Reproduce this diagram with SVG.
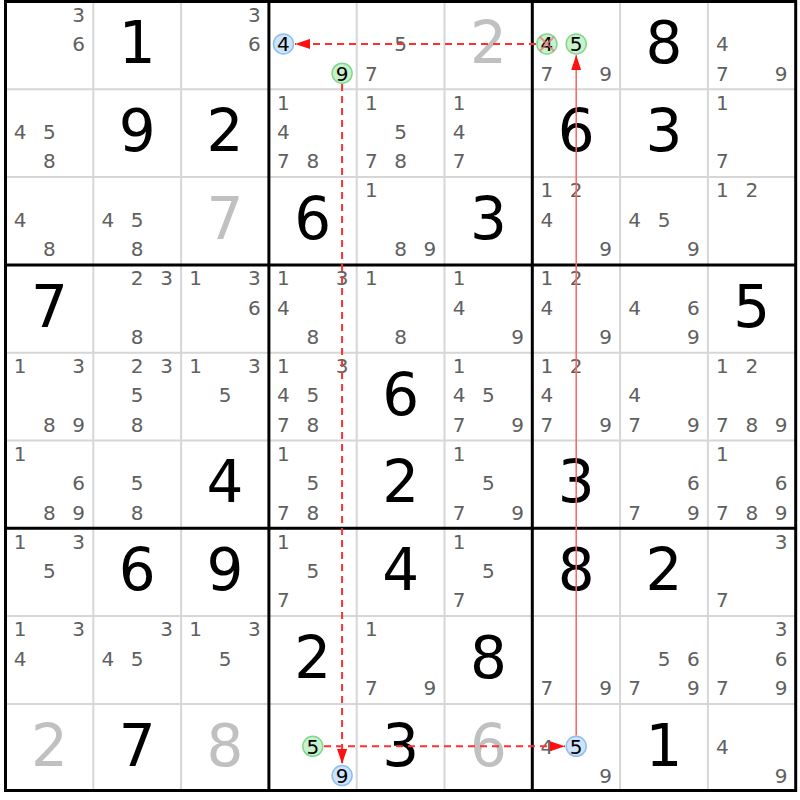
<svg xmlns="http://www.w3.org/2000/svg" width="800" height="800" viewBox="0 0 800 800">
<style>
.c{font-family:"DejaVu Sans","Noto Sans",sans-serif;font-size:20px;fill:#606060;text-anchor:middle}
.k{fill:#000}
.g{font-family:"DejaVu Sans","Noto Sans",sans-serif;font-size:58px;fill:#000;text-anchor:middle}
.s{fill:#c0c0c0}
.thin{stroke:#d6d6d6;stroke-width:2}
.thick{stroke:#000;stroke-width:3}
.cb{fill:#cfe4fb;stroke:#8cc0f4;stroke-width:1.5}
.cg{fill:#c9f1cb;stroke:#7fd98a;stroke-width:1.5}
.dash{stroke:#ff3030;stroke-width:2;stroke-dasharray:7 5;fill:none}
.solid{stroke:#ff6060;stroke-width:1.5;fill:none}
</style>
<defs>
<marker id="ah" markerUnits="userSpaceOnUse" markerWidth="15" markerHeight="10" refX="15" refY="5" orient="auto"><path d="M0,0 L15,5 L0,10 z" fill="#ff1010"/></marker>
</defs>
<rect x="0" y="0" width="800" height="800" fill="#fff"/>
<g id="grid">
<path class="thin" d="M93.3,1.5V790.5M181.1,1.5V790.5M356.7,1.5V790.5M444.5,1.5V790.5M620.1,1.5V790.5M707.9,1.5V790.5M5.5,89.3H795.7M5.5,177.1H795.7M5.5,352.7H795.7M5.5,440.5H795.7M5.5,616.1H795.7M5.5,703.9H795.7"/>
<path class="thick" d="M268.9,1.5V790.5M532.3,1.5V790.5M5.5,264.9H795.7M5.5,528.3H795.7"/>
<rect x="5.5" y="1.5" width="790.2" height="789" fill="none" stroke="#000" stroke-width="3"/>
</g>
<!-- row 1 -->
<g id="r1c1" transform="translate(5.5,1.5)"><text class="c" x="73.2" y="20.4">3</text><text class="c" x="73.2" y="49.7">6</text></g>
<g id="r1c2" transform="translate(93.3,1.5)"><text class="g" x="43.9" y="61.9">1</text></g>
<g id="r1c3" transform="translate(181.1,1.5)"><text class="c" x="73.2" y="20.4">3</text><text class="c" x="73.2" y="49.7">6</text></g>
<g id="r1c4" transform="translate(268.9,1.5)"><circle class="cb" cx="14.6" cy="42.4" r="10"/><text class="c k" x="14.6" y="49.7">4</text><circle class="cg" cx="73.2" cy="71.7" r="10"/><text class="c k" x="73.2" y="79">9</text></g>
<g id="r1c5" transform="translate(356.7,1.5)"><text class="c" x="43.9" y="49.7">5</text><text class="c" x="14.6" y="79">7</text></g>
<g id="r1c6" transform="translate(444.5,1.5)"><text class="g s" x="43.9" y="61.9">2</text></g>
<g id="r1c7" transform="translate(532.3,1.5)"><circle class="cg" cx="14.6" cy="42.4" r="10"/><text class="c k" x="14.6" y="49.7">4</text><path d="M7.5,35.3L21.7,49.5M21.7,35.3L7.5,49.5" stroke="#f07070" stroke-width="2" opacity="0.7"/><circle class="cg" cx="43.9" cy="42.4" r="10"/><text class="c k" x="43.9" y="49.7">5</text><text class="c" x="14.6" y="79">7</text><text class="c" x="73.2" y="79">9</text></g>
<g id="r1c8" transform="translate(620.1,1.5)"><text class="g" x="43.9" y="61.9">8</text></g>
<g id="r1c9" transform="translate(707.9,1.5)"><text class="c" x="14.6" y="49.7">4</text><text class="c" x="14.6" y="79">7</text><text class="c" x="73.2" y="79">9</text></g>
<!-- row 2 -->
<g id="r2c1" transform="translate(5.5,89.3)"><text class="c" x="14.6" y="49.7">4</text><text class="c" x="43.9" y="49.7">5</text><text class="c" x="43.9" y="79">8</text></g>
<g id="r2c2" transform="translate(93.3,89.3)"><text class="g" x="43.9" y="61.9">9</text></g>
<g id="r2c3" transform="translate(181.1,89.3)"><text class="g" x="43.9" y="61.9">2</text></g>
<g id="r2c4" transform="translate(268.9,89.3)"><text class="c" x="14.6" y="20.4">1</text><text class="c" x="14.6" y="49.7">4</text><text class="c" x="14.6" y="79">7</text><text class="c" x="43.9" y="79">8</text></g>
<g id="r2c5" transform="translate(356.7,89.3)"><text class="c" x="14.6" y="20.4">1</text><text class="c" x="43.9" y="49.7">5</text><text class="c" x="14.6" y="79">7</text><text class="c" x="43.9" y="79">8</text></g>
<g id="r2c6" transform="translate(444.5,89.3)"><text class="c" x="14.6" y="20.4">1</text><text class="c" x="14.6" y="49.7">4</text><text class="c" x="14.6" y="79">7</text></g>
<g id="r2c7" transform="translate(532.3,89.3)"><text class="g" x="43.9" y="61.9">6</text></g>
<g id="r2c8" transform="translate(620.1,89.3)"><text class="g" x="43.9" y="61.9">3</text></g>
<g id="r2c9" transform="translate(707.9,89.3)"><text class="c" x="14.6" y="20.4">1</text><text class="c" x="14.6" y="79">7</text></g>
<!-- row 3 -->
<g id="r3c1" transform="translate(5.5,177.1)"><text class="c" x="14.6" y="49.7">4</text><text class="c" x="43.9" y="79">8</text></g>
<g id="r3c2" transform="translate(93.3,177.1)"><text class="c" x="14.6" y="49.7">4</text><text class="c" x="43.9" y="49.7">5</text><text class="c" x="43.9" y="79">8</text></g>
<g id="r3c3" transform="translate(181.1,177.1)"><text class="g s" x="43.9" y="61.9">7</text></g>
<g id="r3c4" transform="translate(268.9,177.1)"><text class="g" x="43.9" y="61.9">6</text></g>
<g id="r3c5" transform="translate(356.7,177.1)"><text class="c" x="14.6" y="20.4">1</text><text class="c" x="43.9" y="79">8</text><text class="c" x="73.2" y="79">9</text></g>
<g id="r3c6" transform="translate(444.5,177.1)"><text class="g" x="43.9" y="61.9">3</text></g>
<g id="r3c7" transform="translate(532.3,177.1)"><text class="c" x="14.6" y="20.4">1</text><text class="c" x="43.9" y="20.4">2</text><text class="c" x="14.6" y="49.7">4</text><text class="c" x="73.2" y="79">9</text></g>
<g id="r3c8" transform="translate(620.1,177.1)"><text class="c" x="14.6" y="49.7">4</text><text class="c" x="43.9" y="49.7">5</text><text class="c" x="73.2" y="79">9</text></g>
<g id="r3c9" transform="translate(707.9,177.1)"><text class="c" x="14.6" y="20.4">1</text><text class="c" x="43.9" y="20.4">2</text></g>
<!-- row 4 -->
<g id="r4c1" transform="translate(5.5,264.9)"><text class="g" x="43.9" y="61.9">7</text></g>
<g id="r4c2" transform="translate(93.3,264.9)"><text class="c" x="43.9" y="20.4">2</text><text class="c" x="73.2" y="20.4">3</text><text class="c" x="43.9" y="79">8</text></g>
<g id="r4c3" transform="translate(181.1,264.9)"><text class="c" x="14.6" y="20.4">1</text><text class="c" x="73.2" y="20.4">3</text><text class="c" x="73.2" y="49.7">6</text></g>
<g id="r4c4" transform="translate(268.9,264.9)"><text class="c" x="14.6" y="20.4">1</text><text class="c" x="73.2" y="20.4">3</text><text class="c" x="14.6" y="49.7">4</text><text class="c" x="43.9" y="79">8</text></g>
<g id="r4c5" transform="translate(356.7,264.9)"><text class="c" x="14.6" y="20.4">1</text><text class="c" x="43.9" y="79">8</text></g>
<g id="r4c6" transform="translate(444.5,264.9)"><text class="c" x="14.6" y="20.4">1</text><text class="c" x="14.6" y="49.7">4</text><text class="c" x="73.2" y="79">9</text></g>
<g id="r4c7" transform="translate(532.3,264.9)"><text class="c" x="14.6" y="20.4">1</text><text class="c" x="43.9" y="20.4">2</text><text class="c" x="14.6" y="49.7">4</text><text class="c" x="73.2" y="79">9</text></g>
<g id="r4c8" transform="translate(620.1,264.9)"><text class="c" x="14.6" y="49.7">4</text><text class="c" x="73.2" y="49.7">6</text><text class="c" x="73.2" y="79">9</text></g>
<g id="r4c9" transform="translate(707.9,264.9)"><text class="g" x="43.9" y="61.9">5</text></g>
<!-- row 5 -->
<g id="r5c1" transform="translate(5.5,352.7)"><text class="c" x="14.6" y="20.4">1</text><text class="c" x="73.2" y="20.4">3</text><text class="c" x="43.9" y="79">8</text><text class="c" x="73.2" y="79">9</text></g>
<g id="r5c2" transform="translate(93.3,352.7)"><text class="c" x="43.9" y="20.4">2</text><text class="c" x="73.2" y="20.4">3</text><text class="c" x="43.9" y="49.7">5</text><text class="c" x="43.9" y="79">8</text></g>
<g id="r5c3" transform="translate(181.1,352.7)"><text class="c" x="14.6" y="20.4">1</text><text class="c" x="73.2" y="20.4">3</text><text class="c" x="43.9" y="49.7">5</text></g>
<g id="r5c4" transform="translate(268.9,352.7)"><text class="c" x="14.6" y="20.4">1</text><text class="c" x="73.2" y="20.4">3</text><text class="c" x="14.6" y="49.7">4</text><text class="c" x="43.9" y="49.7">5</text><text class="c" x="14.6" y="79">7</text><text class="c" x="43.9" y="79">8</text></g>
<g id="r5c5" transform="translate(356.7,352.7)"><text class="g" x="43.9" y="61.9">6</text></g>
<g id="r5c6" transform="translate(444.5,352.7)"><text class="c" x="14.6" y="20.4">1</text><text class="c" x="14.6" y="49.7">4</text><text class="c" x="43.9" y="49.7">5</text><text class="c" x="14.6" y="79">7</text><text class="c" x="73.2" y="79">9</text></g>
<g id="r5c7" transform="translate(532.3,352.7)"><text class="c" x="14.6" y="20.4">1</text><text class="c" x="43.9" y="20.4">2</text><text class="c" x="14.6" y="49.7">4</text><text class="c" x="14.6" y="79">7</text><text class="c" x="73.2" y="79">9</text></g>
<g id="r5c8" transform="translate(620.1,352.7)"><text class="c" x="14.6" y="49.7">4</text><text class="c" x="14.6" y="79">7</text><text class="c" x="73.2" y="79">9</text></g>
<g id="r5c9" transform="translate(707.9,352.7)"><text class="c" x="14.6" y="20.4">1</text><text class="c" x="43.9" y="20.4">2</text><text class="c" x="14.6" y="79">7</text><text class="c" x="43.9" y="79">8</text><text class="c" x="73.2" y="79">9</text></g>
<!-- row 6 -->
<g id="r6c1" transform="translate(5.5,440.5)"><text class="c" x="14.6" y="20.4">1</text><text class="c" x="73.2" y="49.7">6</text><text class="c" x="43.9" y="79">8</text><text class="c" x="73.2" y="79">9</text></g>
<g id="r6c2" transform="translate(93.3,440.5)"><text class="c" x="43.9" y="49.7">5</text><text class="c" x="43.9" y="79">8</text></g>
<g id="r6c3" transform="translate(181.1,440.5)"><text class="g" x="43.9" y="61.9">4</text></g>
<g id="r6c4" transform="translate(268.9,440.5)"><text class="c" x="14.6" y="20.4">1</text><text class="c" x="43.9" y="49.7">5</text><text class="c" x="14.6" y="79">7</text><text class="c" x="43.9" y="79">8</text></g>
<g id="r6c5" transform="translate(356.7,440.5)"><text class="g" x="43.9" y="61.9">2</text></g>
<g id="r6c6" transform="translate(444.5,440.5)"><text class="c" x="14.6" y="20.4">1</text><text class="c" x="43.9" y="49.7">5</text><text class="c" x="14.6" y="79">7</text><text class="c" x="73.2" y="79">9</text></g>
<g id="r6c7" transform="translate(532.3,440.5)"><text class="g" x="43.9" y="61.9">3</text></g>
<g id="r6c8" transform="translate(620.1,440.5)"><text class="c" x="73.2" y="49.7">6</text><text class="c" x="14.6" y="79">7</text><text class="c" x="73.2" y="79">9</text></g>
<g id="r6c9" transform="translate(707.9,440.5)"><text class="c" x="14.6" y="20.4">1</text><text class="c" x="73.2" y="49.7">6</text><text class="c" x="14.6" y="79">7</text><text class="c" x="43.9" y="79">8</text><text class="c" x="73.2" y="79">9</text></g>
<!-- row 7 -->
<g id="r7c1" transform="translate(5.5,528.3)"><text class="c" x="14.6" y="20.4">1</text><text class="c" x="73.2" y="20.4">3</text><text class="c" x="43.9" y="49.7">5</text></g>
<g id="r7c2" transform="translate(93.3,528.3)"><text class="g" x="43.9" y="61.9">6</text></g>
<g id="r7c3" transform="translate(181.1,528.3)"><text class="g" x="43.9" y="61.9">9</text></g>
<g id="r7c4" transform="translate(268.9,528.3)"><text class="c" x="14.6" y="20.4">1</text><text class="c" x="43.9" y="49.7">5</text><text class="c" x="14.6" y="79">7</text></g>
<g id="r7c5" transform="translate(356.7,528.3)"><text class="g" x="43.9" y="61.9">4</text></g>
<g id="r7c6" transform="translate(444.5,528.3)"><text class="c" x="14.6" y="20.4">1</text><text class="c" x="43.9" y="49.7">5</text><text class="c" x="14.6" y="79">7</text></g>
<g id="r7c7" transform="translate(532.3,528.3)"><text class="g" x="43.9" y="61.9">8</text></g>
<g id="r7c8" transform="translate(620.1,528.3)"><text class="g" x="43.9" y="61.9">2</text></g>
<g id="r7c9" transform="translate(707.9,528.3)"><text class="c" x="73.2" y="20.4">3</text><text class="c" x="14.6" y="79">7</text></g>
<!-- row 8 -->
<g id="r8c1" transform="translate(5.5,616.1)"><text class="c" x="14.6" y="20.4">1</text><text class="c" x="73.2" y="20.4">3</text><text class="c" x="14.6" y="49.7">4</text></g>
<g id="r8c2" transform="translate(93.3,616.1)"><text class="c" x="73.2" y="20.4">3</text><text class="c" x="14.6" y="49.7">4</text><text class="c" x="43.9" y="49.7">5</text></g>
<g id="r8c3" transform="translate(181.1,616.1)"><text class="c" x="14.6" y="20.4">1</text><text class="c" x="73.2" y="20.4">3</text><text class="c" x="43.9" y="49.7">5</text></g>
<g id="r8c4" transform="translate(268.9,616.1)"><text class="g" x="43.9" y="61.9">2</text></g>
<g id="r8c5" transform="translate(356.7,616.1)"><text class="c" x="14.6" y="20.4">1</text><text class="c" x="14.6" y="79">7</text><text class="c" x="73.2" y="79">9</text></g>
<g id="r8c6" transform="translate(444.5,616.1)"><text class="g" x="43.9" y="61.9">8</text></g>
<g id="r8c7" transform="translate(532.3,616.1)"><text class="c" x="14.6" y="79">7</text><text class="c" x="73.2" y="79">9</text></g>
<g id="r8c8" transform="translate(620.1,616.1)"><text class="c" x="43.9" y="49.7">5</text><text class="c" x="73.2" y="49.7">6</text><text class="c" x="14.6" y="79">7</text><text class="c" x="73.2" y="79">9</text></g>
<g id="r8c9" transform="translate(707.9,616.1)"><text class="c" x="73.2" y="20.4">3</text><text class="c" x="73.2" y="49.7">6</text><text class="c" x="14.6" y="79">7</text><text class="c" x="73.2" y="79">9</text></g>
<!-- row 9 -->
<g id="r9c1" transform="translate(5.5,703.9)"><text class="g s" x="43.9" y="61.9">2</text></g>
<g id="r9c2" transform="translate(93.3,703.9)"><text class="g" x="43.9" y="61.9">7</text></g>
<g id="r9c3" transform="translate(181.1,703.9)"><text class="g s" x="43.9" y="61.9">8</text></g>
<g id="r9c4" transform="translate(268.9,703.9)"><circle class="cg" cx="43.9" cy="42.4" r="10"/><text class="c k" x="43.9" y="49.7">5</text><circle class="cb" cx="73.2" cy="71.7" r="10"/><text class="c k" x="73.2" y="79">9</text></g>
<g id="r9c5" transform="translate(356.7,703.9)"><text class="g" x="43.9" y="61.9">3</text></g>
<g id="r9c6" transform="translate(444.5,703.9)"><text class="g s" x="43.9" y="61.9">6</text></g>
<g id="r9c7" transform="translate(532.3,703.9)"><text class="c" x="14.6" y="49.7">4</text><circle class="cb" cx="43.9" cy="42.4" r="10"/><text class="c k" x="43.9" y="49.7">5</text><text class="c" x="73.2" y="79">9</text></g>
<g id="r9c8" transform="translate(620.1,703.9)"><text class="g" x="43.9" y="61.9">1</text></g>
<g id="r9c9" transform="translate(707.9,703.9)"><text class="c" x="14.6" y="49.7">4</text><text class="c" x="73.2" y="79">9</text></g>
<g id="connectors">
<line class="dash" x1="536" y1="43.9" x2="295" y2="43.9" marker-end="url(#ah)"/>
<line class="dash" x1="342.1" y1="84" x2="342.1" y2="764" marker-end="url(#ah)"/>
<line class="dash" x1="324" y1="746.3" x2="565" y2="746.3" marker-end="url(#ah)"/>
<line class="solid" x1="576.2" y1="735.5" x2="576.2" y2="55" marker-end="url(#ah)"/>
</g>
</svg>
